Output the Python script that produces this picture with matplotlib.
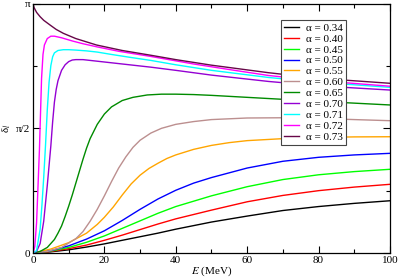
import numpy as np
import matplotlib
matplotlib.use("Agg")
import matplotlib.pyplot as plt
from matplotlib.ticker import MultipleLocator, FixedLocator

plt.rcParams['font.family'] = ['Liberation Serif', 'DejaVu Serif']
plt.rcParams['mathtext.fontset'] = 'stix'

# phase shift delta_l (rad) vs E (MeV)
e_034 = [0, 5, 10, 15, 20, 25, 30, 35, 40, 50, 60, 70, 80, 90, 100]
d_034 = [0, 0.015, 0.04, 0.075, 0.115, 0.16, 0.205, 0.25, 0.3, 0.39, 0.465, 0.535, 0.585, 0.625, 0.658]

e_040 = [0, 5, 10, 15, 20, 25, 30, 35, 40, 50, 60, 70, 80, 90, 100]
d_040 = [0, 0.02, 0.055, 0.1, 0.16, 0.225, 0.295, 0.365, 0.43, 0.54, 0.645, 0.725, 0.785, 0.83, 0.865]

e_045 = [0, 5, 10, 15, 20, 25, 30, 35, 40, 50, 60, 70, 80, 90, 100]
d_045 = [0, 0.025, 0.07, 0.135, 0.215, 0.31, 0.405, 0.5, 0.585, 0.72, 0.835, 0.925, 0.985, 1.025, 1.054]

e_050 = [0, 5, 10, 15, 20, 25, 30, 35, 40, 45, 50, 60, 70, 80, 90, 100]
d_050 = [0, 0.03, 0.09, 0.175, 0.28, 0.41, 0.55, 0.68, 0.79, 0.88, 0.95, 1.07, 1.155, 1.205, 1.235, 1.255]

e_055 = [0, 5, 10, 15, 18, 20, 22.5, 25, 27.5, 30, 32.5, 35, 37.5, 40, 45, 50, 55, 60, 70, 80, 90, 100]
d_055 = [0, 0.05, 0.13, 0.25, 0.36, 0.45, 0.58, 0.73, 0.87, 0.98, 1.065, 1.13, 1.19, 1.235, 1.305, 1.355, 1.39, 1.415, 1.44, 1.455, 1.462, 1.464]

e_060 = [0, 4, 8, 12, 14, 16, 18, 20, 22, 24, 26, 28, 30, 33, 36, 40, 45, 50, 60, 70, 80, 90, 100]
d_060 = [0, 0.02, 0.07, 0.18, 0.27, 0.4, 0.55, 0.72, 0.9, 1.07, 1.21, 1.33, 1.42, 1.51, 1.57, 1.62, 1.655, 1.68, 1.7, 1.703, 1.695, 1.68, 1.666]

e_065 = [0, 2, 4, 6, 7, 8, 9, 10, 11, 12, 13, 14, 15, 16, 18, 20, 22, 25, 28, 32, 36, 40, 45, 50, 60, 70, 80, 90, 100]
d_065 = [0, 0.02, 0.07, 0.17, 0.25, 0.34, 0.46, 0.59, 0.73, 0.88, 1.03, 1.18, 1.32, 1.44, 1.62, 1.75, 1.84, 1.92, 1.96, 1.99, 2.0, 2.0, 1.995, 1.985, 1.96, 1.935, 1.91, 1.887, 1.864]

e_070 = [0, 1, 2, 3, 4, 4.5, 5, 5.5, 6, 6.5, 7, 8, 9, 10, 11, 12, 14, 17, 20, 25, 33, 40, 50, 66, 80, 100]
d_070 = [0, 0.02, 0.12, 0.4, 0.85, 1.1, 1.35, 1.65, 1.9, 2.06, 2.17, 2.3, 2.37, 2.41, 2.43, 2.435, 2.435, 2.42, 2.405, 2.38, 2.34, 2.3, 2.24, 2.16, 2.105, 2.052]

e_071 = [0, 1, 2, 2.5, 3, 3.5, 4, 4.5, 5, 5.5, 6, 7, 8.5, 10, 12, 15, 18, 22, 27, 33, 40, 50, 66, 80, 100]
d_071 = [0, 0.03, 0.3, 0.6, 0.95, 1.35, 1.8, 2.15, 2.36, 2.47, 2.52, 2.55, 2.56, 2.56, 2.555, 2.545, 2.53, 2.5, 2.465, 2.425, 2.37, 2.3, 2.21, 2.15, 2.086]

e_072 = [0, 0.5, 1, 1.5, 1.8, 2, 2.4, 2.8, 3.2, 4, 5, 6, 8, 11, 14, 18, 24, 33, 45, 55, 66, 80, 100]
d_072 = [0, 0.08, 0.38, 0.95, 1.3, 1.6, 2.2, 2.5, 2.62, 2.7, 2.73, 2.73, 2.71, 2.67, 2.635, 2.595, 2.54, 2.475, 2.38, 2.31, 2.235, 2.17, 2.1]

e_073 = [0, 0.3, 1, 2, 3, 4.8, 6.5, 8.5, 12, 17.8, 25, 33, 40, 50, 66, 80, 100]
d_073 = [3.1416, 3.09, 3.03, 2.975, 2.93, 2.87, 2.815, 2.766, 2.7, 2.619, 2.55, 2.49, 2.435, 2.365, 2.27, 2.2, 2.137]

alphas = ['0.34', '0.40', '0.45', '0.50', '0.55', '0.60', '0.65', '0.70', '0.71', '0.72', '0.73']
energies = [e_034, e_040, e_045, e_050, e_055, e_060, e_065, e_070, e_071, e_072, e_073]
shifts = [d_034, d_040, d_045, d_050, d_055, d_060, d_065, d_070, d_071, d_072, d_073]
colors = ['#000000', '#ff0000', '#00ff00', '#0000ff', '#ffa500', '#bc8f8f',
          '#008b00', '#9400d3', '#00ffff', '#ff00ff', '#670748']


fig = plt.figure(figsize=(3.99, 2.78), dpi=100)
ax = fig.add_axes([0.0827, 0.0899, 0.8947, 0.8975])

for e, d, a, c in zip(energies, shifts, alphas, colors):
    ax.plot(e, d, color=c, lw=1.0, label='α = ' + a)

ax.set_xlim(0, 100)
ax.set_ylim(0, np.pi)
ax.xaxis.set_major_locator(MultipleLocator(20))
ax.xaxis.set_minor_locator(MultipleLocator(10))
ax.yaxis.set_major_locator(FixedLocator([0, np.pi / 2, np.pi]))
ax.yaxis.set_minor_locator(FixedLocator([np.pi / 4, 3 * np.pi / 4]))
ax.set_yticklabels(['0', 'π/2', 'π'])
ax.tick_params(which='both', direction='in', top=True, right=True, labelsize=8, width=0.8)
ax.tick_params(which='major', length=5, pad=2)
ax.tick_params(which='minor', length=3)
for s in ax.spines.values():
    s.set_linewidth(0.9)

ax.set_xlabel(r'$E$ (MeV)', fontsize=8, labelpad=0)
ax.set_ylabel(r'δ$_l$', fontsize=8, labelpad=2)

leg = ax.legend(loc='upper right', bbox_to_anchor=(0.878, 0.935), fontsize=8,
                handlelength=1.4, handletextpad=0.6, labelspacing=0.1,
                borderpad=0.3, fancybox=False, framealpha=1, borderaxespad=0)
leg.get_frame().set_edgecolor('#444444')
leg.get_frame().set_linewidth(0.8)

plt.savefig('out.png', dpi=100)
